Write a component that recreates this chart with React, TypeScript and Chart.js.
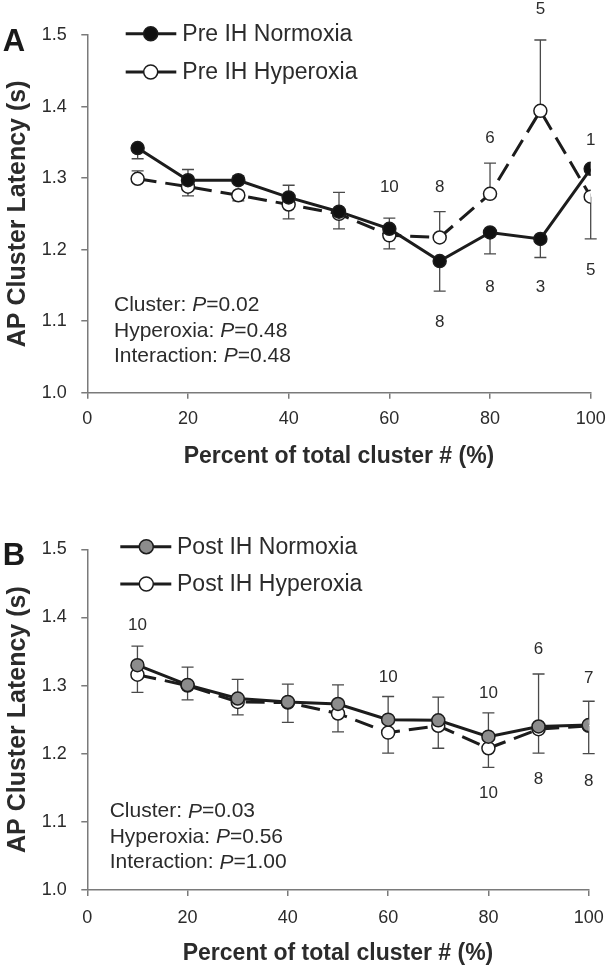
import React, { useEffect, useRef } from 'react';
import { Chart, registerables } from 'chart.js';

Chart.register(...registerables);

// ---------------- data ----------------
const clusterPercent = [10, 20, 30, 40, 50, 60, 70, 80, 90, 100];
const xTicks = [0, 20, 40, 60, 80, 100];
const yTicks = [1.0, 1.1, 1.2, 1.3, 1.4, 1.5];

// Panel A (Pre IH)
const preNormoxia = [1.342, 1.297, 1.297, 1.273, 1.253, 1.229, 1.184, 1.224, 1.215, 1.313];
const preHyperoxia = [1.299, 1.288, 1.276, 1.263, 1.250, 1.220, 1.217, 1.278, 1.394, 1.274];
const preNormoxiaBarEnd = [1.327, 1.312, 1.303, 1.290, 1.280, 1.244, 1.142, 1.194, 1.189, null];
const preHyperoxiaBarEnd = [1.310, 1.275, 1.268, 1.243, 1.229, 1.201, 1.253, 1.321, 1.493, 1.215];
const preNText = ['5', '6', '1', '10', '8', '5', '8', '3', '8'];
const preNX = [90, 80, 100, 60, 70, 100, 80, 90, 70];
const preNY = [1.536, 1.356, 1.353, 1.287, 1.287, 1.171, 1.147, 1.148, 1.098];
const preStatP = ['0.02', '0.48', '0.48'];

// Panel B (Post IH)
const postNormoxia = [1.330, 1.301, 1.281, 1.276, 1.273, 1.250, 1.249, 1.225, 1.240, 1.242];
const postHyperoxia = [1.316, 1.300, 1.276, 1.275, 1.259, 1.231, 1.241, 1.208, 1.236, 1.241];
const postNormoxiaBarEnd = [1.358, 1.327, 1.309, 1.302, 1.301, 1.284, 1.283, 1.260, 1.317, 1.277];
const postHyperoxiaBarEnd = [1.290, 1.279, 1.257, 1.246, 1.232, 1.201, 1.208, 1.180, 1.201, 1.200];
const postNText = ['10', '10', '6', '7', '10', '10', '8', '8'];
const postNX = [10, 60, 90, 100, 80, 80, 90, 100];
const postNY = [1.388, 1.312, 1.353, 1.311, 1.289, 1.142, 1.163, 1.160];
const postStatP = ['0.03', '0.56', '1.00'];

const statLabels = ['Cluster', 'Hyperoxia', 'Interaction'];
const xTitle = 'Percent of total cluster # (%)';
const yTitle = 'AP Cluster Latency (s)';

// ---------------- style ----------------
const FONT = '"Liberation Sans", Arial, Helvetica, sans-serif';
const TEXT = '#2b2b2b';
const AXIS = '#7a7a7a';
const LINE = '#1c1c1c';
const BAR = '#4a4a4a';

interface PanelCfg {
  letter: string;
  letterY: number;
  names: [string, string];
  norm: number[];
  hyp: number[];
  normEnd: (number | null)[];
  hypEnd: (number | null)[];
  normFill: string;
  nText: string[];
  nX: number[];
  nY: number[];
  statP: string[];
  padTop: number;
  padRight: number;
  xAxisH: number;
  xTickPad: number;
  xTitlePadBottom: number;
  legend: { x1: number; x2: number; mx: number; tx: number; y: [number, number] };
  stats: { x: number; y: number[] };
}

const panelA: PanelCfg = {
  letter: 'A',
  letterY: 42,
  names: ['Pre IH Normoxia', 'Pre IH Hyperoxia'],
  norm: preNormoxia,
  hyp: preHyperoxia,
  normEnd: preNormoxiaBarEnd,
  hypEnd: preHyperoxiaBarEnd,
  normFill: '#111111',
  nText: preNText,
  nX: preNX,
  nY: preNY,
  statP: preStatP,
  padTop: 35,
  padRight: 17.3,
  xAxisH: 92.3,
  xTickPad: 9.8,
  xTitlePadBottom: 14.5,
  legend: { x1: 125.7, x2: 176.3, mx: 150.7, tx: 182.3, y: [33.7, 72] },
  stats: { x: 114, y: [305, 331, 356] },
};

const panelB: PanelCfg = {
  letter: 'B',
  letterY: 71,
  names: ['Post IH Normoxia', 'Post IH Hyperoxia'],
  norm: postNormoxia,
  hyp: postHyperoxia,
  normEnd: postNormoxiaBarEnd,
  hypEnd: postHyperoxiaBarEnd,
  normFill: '#8c8c8c',
  nText: postNText,
  nX: postNX,
  nY: postNY,
  statP: postStatP,
  padTop: 64.3,
  padRight: 19.3,
  xAxisH: 80,
  xTickPad: 11.5,
  xTitlePadBottom: 3,
  legend: { x1: 120.3, x2: 171.3, mx: 146.3, tx: 177, y: [61.7, 99] },
  stats: { x: 109.7, y: [326.7, 352.3, 377.7] },
};

function makeChart(canvas: HTMLCanvasElement, cfg: PanelCfg): Chart {
  const overlay = {
    id: 'overlay' + cfg.letter,
    beforeDatasetsDraw(chart: any) {
      const ctx = chart.ctx;
      const xs = chart.scales.x;
      const ys = chart.scales.y;
      ctx.save();
      ctx.strokeStyle = BAR;
      ctx.lineWidth = 1.3;
      const series: [number[], (number | null)[]][] = [
        [cfg.norm, cfg.normEnd],
        [cfg.hyp, cfg.hypEnd],
      ];
      for (const [vals, ends] of series) {
        vals.forEach((v, i) => {
          const e = ends[i];
          if (e === null || e === undefined) return;
          const px = xs.getPixelForValue(clusterPercent[i]);
          const p0 = ys.getPixelForValue(v);
          const p1 = ys.getPixelForValue(e);
          ctx.beginPath();
          ctx.moveTo(px, p0);
          ctx.lineTo(px, p1);
          ctx.moveTo(px - 6, p1);
          ctx.lineTo(px + 6, p1);
          ctx.stroke();
        });
      }
      ctx.restore();
    },
    afterDraw(chart: any) {
      const ctx = chart.ctx;
      const xs = chart.scales.x;
      const ys = chart.scales.y;
      ctx.save();
      // panel letter
      ctx.fillStyle = '#1a1a1a';
      ctx.font = `bold 31px ${FONT}`;
      ctx.textAlign = 'center';
      ctx.textBaseline = 'middle';
      ctx.fillText(cfg.letter, 14, cfg.letterY);

      // legend
      const L = cfg.legend;
      cfg.names.forEach((name, k) => {
        const y = L.y[k];
        ctx.strokeStyle = LINE;
        ctx.lineWidth = 3;
        ctx.setLineDash([]);
        ctx.beginPath();
        ctx.moveTo(L.x1, y);
        ctx.lineTo(L.x2, y);
        ctx.stroke();
        ctx.beginPath();
        ctx.arc(L.mx, y, 7, 0, Math.PI * 2);
        ctx.fillStyle = k === 0 ? cfg.normFill : '#ffffff';
        ctx.fill();
        ctx.lineWidth = 1.5;
        ctx.stroke();
        ctx.fillStyle = TEXT;
        ctx.font = `23px ${FONT}`;
        ctx.textAlign = 'left';
        ctx.textBaseline = 'middle';
        ctx.fillText(name, L.tx, y + 1);
      });

      // n labels
      ctx.fillStyle = TEXT;
      ctx.font = `17px ${FONT}`;
      ctx.textAlign = 'center';
      ctx.textBaseline = 'middle';
      cfg.nText.forEach((t, i) => {
        ctx.fillText(t, xs.getPixelForValue(cfg.nX[i]), ys.getPixelForValue(cfg.nY[i]));
      });

      // statistics text
      ctx.textAlign = 'left';
      statLabels.forEach((lab, i) => {
        let x = cfg.stats.x;
        const y = cfg.stats.y[i];
        ctx.font = `21px ${FONT}`;
        const a = lab + ': ';
        ctx.fillText(a, x, y);
        x += ctx.measureText(a).width;
        ctx.font = `italic 21px ${FONT}`;
        ctx.fillText('P', x, y);
        x += ctx.measureText('P').width;
        ctx.font = `21px ${FONT}`;
        ctx.fillText('=' + cfg.statP[i], x, y);
      });
      ctx.restore();
    },
  };

  return new Chart(canvas, {
    type: 'line',
    data: {
      datasets: [
        {
          label: cfg.names[0],
          data: clusterPercent.map((x, i) => ({ x, y: cfg.norm[i] })),
          borderColor: LINE,
          borderWidth: 3,
          pointRadius: 6.5,
          pointBackgroundColor: cfg.normFill,
          pointBorderColor: LINE,
          pointBorderWidth: 1.5,
          fill: false,
          tension: 0,
        },
        {
          label: cfg.names[1],
          data: clusterPercent.map((x, i) => ({ x, y: cfg.hyp[i] })),
          borderColor: LINE,
          borderWidth: 3,
          borderDash: [19, 9],
          pointRadius: 6.5,
          pointBackgroundColor: '#ffffff',
          pointBorderColor: LINE,
          pointBorderWidth: 1.5,
          fill: false,
          tension: 0,
        },
      ],
    },
    options: {
      animation: false,
      responsive: false,
      maintainAspectRatio: false,
      events: [],
      layout: { padding: { top: cfg.padTop, right: cfg.padRight, left: 0, bottom: 0 } },
      plugins: { legend: { display: false }, tooltip: { enabled: false } },
      scales: {
        x: {
          type: 'linear',
          min: 0,
          max: 100,
          afterBuildTicks: (s: any) => {
            s.ticks = xTicks.map((v) => ({ value: v }));
          },
          ticks: {
            font: { family: FONT, size: 18 },
            color: TEXT,
            padding: cfg.xTickPad,
            maxRotation: 0,
            autoSkip: false,
          },
          grid: { drawOnChartArea: false, drawTicks: true, tickLength: 6, color: AXIS, lineWidth: 1.5 },
          border: { display: true, color: AXIS, width: 1.5 },
          title: {
            display: true,
            text: xTitle,
            color: TEXT,
            font: { family: FONT, size: 23, weight: 'bold' },
            padding: { top: 0, bottom: cfg.xTitlePadBottom },
          },
          afterFit: (s: any) => {
            s.height = cfg.xAxisH;
            s.paddingLeft = 0;
            s.paddingRight = 0;
          },
        },
        y: {
          type: 'linear',
          min: 1.0,
          max: 1.5,
          afterBuildTicks: (s: any) => {
            s.ticks = yTicks.map((v) => ({ value: v }));
          },
          ticks: {
            font: { family: FONT, size: 18 },
            color: TEXT,
            padding: 14.6,
            autoSkip: false,
            callback: (v: any) => Number(v).toFixed(1),
          },
          grid: { drawOnChartArea: false, drawTicks: true, tickLength: 6, color: AXIS, lineWidth: 1.5 },
          border: { display: true, color: AXIS, width: 1.5 },
          title: {
            display: true,
            text: yTitle,
            color: TEXT,
            font: { family: FONT, size: 25, weight: 'bold' },
            padding: { top: 3, bottom: 0 },
          },
          afterFit: (s: any) => {
            s.width = 87.3;
            s.paddingTop = 0;
            s.paddingBottom = 0;
          },
        },
      },
    } as any,
    plugins: [overlay],
  });
}

export default function App() {
  const refA = useRef<HTMLCanvasElement | null>(null);
  const refB = useRef<HTMLCanvasElement | null>(null);

  useEffect(() => {
    Chart.defaults.font.family = FONT;
    const charts: Chart[] = [];
    if (refA.current) charts.push(makeChart(refA.current, panelA));
    if (refB.current) charts.push(makeChart(refB.current, panelB));
    return () => {
      charts.forEach((c) => c.destroy());
    };
  }, []);

  return (
    <div
      style={{
        position: 'absolute',
        left: 0,
        top: 0,
        width: 608,
        height: 970,
        background: '#ffffff',
      }}
    >
      <canvas ref={refA} width={608} height={485} style={{ display: 'block', width: 608, height: 485 }} />
      <canvas ref={refB} width={608} height={485} style={{ display: 'block', width: 608, height: 485 }} />
    </div>
  );
}
